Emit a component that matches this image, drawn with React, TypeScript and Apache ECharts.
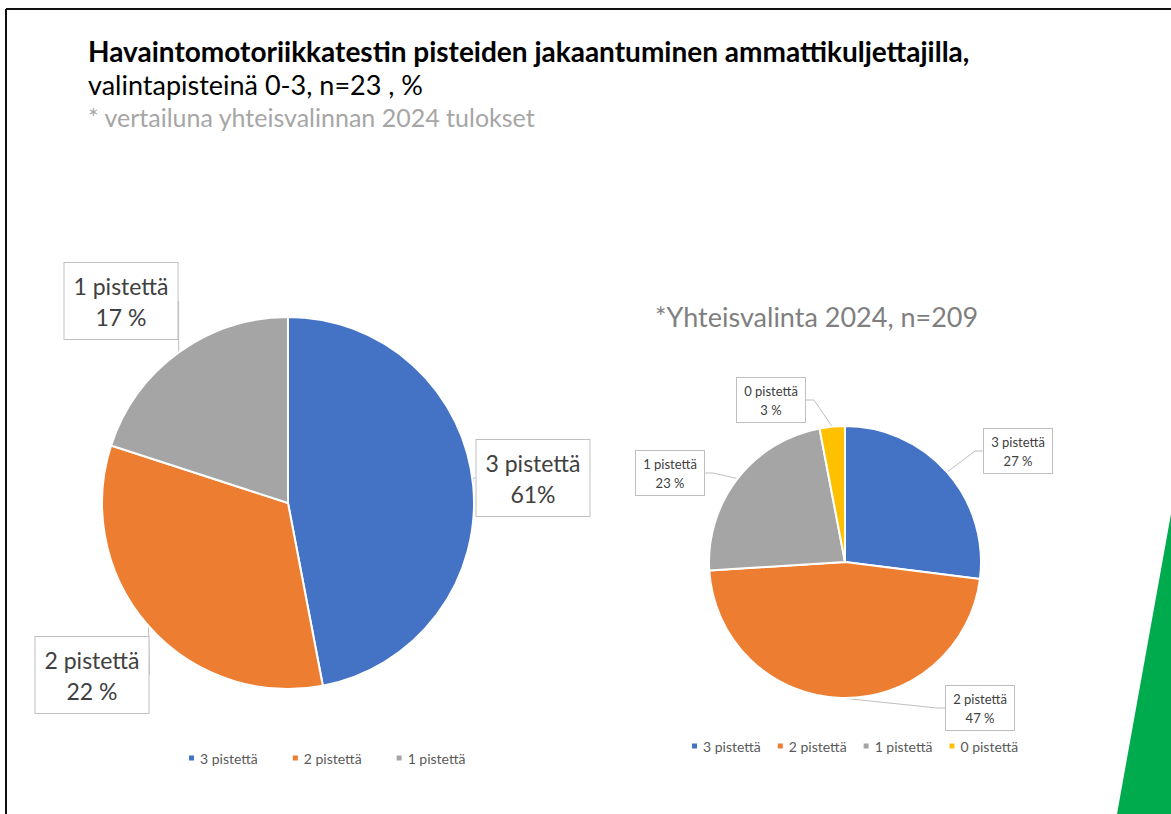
import React, { useEffect, useRef } from "react";
import * as echarts from "echarts";

const categoriesLeft = ["3 pistettä", "2 pistettä", "1 pistettä"];
const sharesLeft = [47, 33, 20];
const labelsLeft = ["61%", "22 %", "17 %"];

const categoriesRight = ["3 pistettä", "2 pistettä", "1 pistettä", "0 pistettä"];
const sharesRight = [27, 47, 23, 3];
const labelsRight = ["27 %", "47 %", "23 %", "3 %"];

const colors = ["#4472C4", "#ED7D31", "#A5A5A5", "#FFC000"];

const leftLabelPos: [number, number][] = [
  [533, 478],
  [92, 675],
  [121, 301],
];
const rightLabelPos: [number, number][] = [
  [1018, 451],
  [980, 708],
  [670, 473],
  [771, 400],
];

const FONT = "Lato, 'Open Sans', sans-serif";

export default function App() {
  const ref = useRef<HTMLDivElement>(null);
  useEffect(() => {
    if (!ref.current) return;
    const chart = echarts.init(ref.current, undefined, { renderer: "svg" });
    chart.setOption({
      animation: false,
      backgroundColor: "#ffffff",
      color: colors,
      textStyle: { fontFamily: FONT },
      graphic: [
        { type: "line", shape: { x1: 6, y1: 9, x2: 1171, y2: 9 }, style: { stroke: "#111", lineWidth: 2 } },
        { type: "line", shape: { x1: 6, y1: 9, x2: 6, y2: 814 }, style: { stroke: "#111", lineWidth: 2 } },
        {
          type: "polygon",
          shape: { points: [[1171, 514], [1171, 814], [1117, 814]] },
          style: { fill: "#00AB4E" },
        },
        {
          type: "text",
          left: 88,
          top: 37,
          style: {
            text: "Havaintomotoriikkatestin pisteiden jakaantuminen ammattikuljettajilla,",
            font: `bold 28px ${FONT}`,
            fill: "#000000",
          },
        },
        {
          type: "text",
          left: 88,
          top: 71,
          style: { text: "valintapisteinä 0-3, n=23 , %", font: `27px ${FONT}`, fill: "#000000" },
        },
        {
          type: "text",
          left: 88,
          top: 104,
          style: { text: "* vertailuna yhteisvalinnan 2024 tulokset", font: `25px ${FONT}`, fill: "#A6A6A6" },
        },
        {
          type: "text",
          left: 655,
          top: 303,
          style: { text: "*Yhteisvalinta 2024, n=209", font: `27px ${FONT}`, fill: "#7F7F7F" },
        },
      ],
      legend: [
        {
          data: categoriesLeft,
          left: 182,
          top: 746,
          icon: "rect",
          itemWidth: 7,
          itemHeight: 7,
          itemGap: 33,
          selectedMode: false,
          textStyle: { fontSize: 14, color: "#595959", fontFamily: FONT },
        },
        {
          data: categoriesRight,
          left: 685,
          top: 734,
          icon: "rect",
          itemWidth: 7,
          itemHeight: 7,
          itemGap: 15,
          selectedMode: false,
          textStyle: { fontSize: 14, color: "#595959", fontFamily: FONT },
        },
      ],
      series: [
        {
          type: "pie",
          center: [288, 503],
          radius: 186,
          startAngle: 90,
          clockwise: true,
          avoidLabelOverlap: false,
          itemStyle: { borderColor: "#fff", borderWidth: 2 },
          data: categoriesLeft.map((n, i) => ({ name: n, value: sharesLeft[i], itemStyle: { color: colors[i] } })),
          label: {
            show: true,
            position: "outside",
            formatter: (p: any) => `${p.name}\n${labelsLeft[p.dataIndex]}`,
            fontSize: 23,
            lineHeight: 31,
            color: "#404040",
            fontFamily: FONT,
            align: "center",
            backgroundColor: "#ffffff",
            borderColor: "#BFBFBF",
            borderWidth: 1,
            padding: [7, 6],
            width: 101,
          },
          labelLine: { show: true, length: 10, length2: 10, lineStyle: { color: "#BFBFBF", width: 1 } },
          labelLayout: (params: any) => ({
            x: leftLabelPos[params.dataIndex][0],
            y: leftLabelPos[params.dataIndex][1],
            align: "center",
            verticalAlign: "middle",
          }),
        },
        {
          type: "pie",
          center: [845, 562],
          radius: 136,
          startAngle: 90,
          clockwise: true,
          avoidLabelOverlap: false,
          itemStyle: { borderColor: "#fff", borderWidth: 2 },
          data: categoriesRight.map((n, i) => ({ name: n, value: sharesRight[i], itemStyle: { color: colors[i] } })),
          label: {
            show: true,
            position: "outside",
            formatter: (p: any) => `${p.name}\n${labelsRight[p.dataIndex]}`,
            fontSize: 13,
            lineHeight: 19,
            color: "#404040",
            fontFamily: FONT,
            align: "center",
            backgroundColor: "#ffffff",
            borderColor: "#BFBFBF",
            borderWidth: 1,
            padding: [3, 4],
            width: 60,
          },
          labelLine: { show: true, length: 8, length2: 8, lineStyle: { color: "#BFBFBF", width: 1 } },
          labelLayout: (params: any) => ({
            x: rightLabelPos[params.dataIndex][0],
            y: rightLabelPos[params.dataIndex][1],
            align: "center",
            verticalAlign: "middle",
          }),
        },
      ],
    });
    return () => chart.dispose();
  }, []);
  return (
    <div
      ref={ref}
      style={{ position: "absolute", left: 0, top: 0, width: 1171, height: 814 }}
    />
  );
}
